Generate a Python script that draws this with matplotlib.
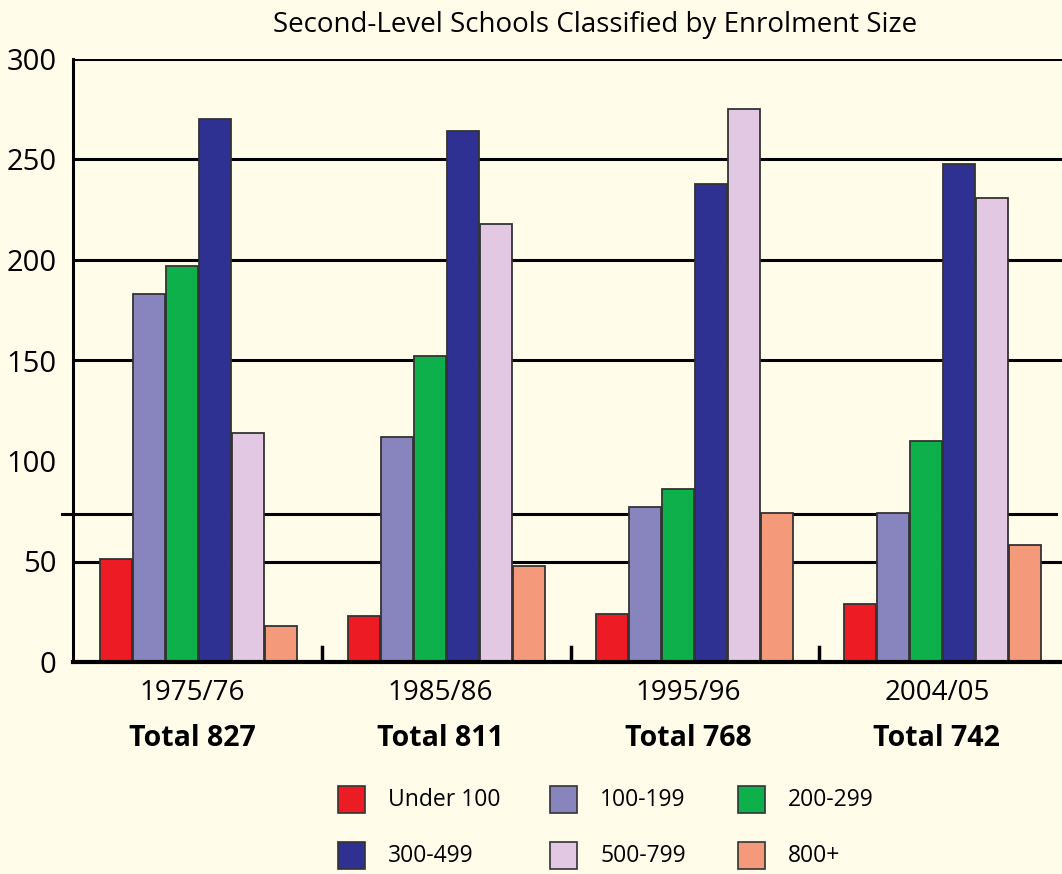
import matplotlib
matplotlib.use("Agg")
import matplotlib.pyplot as plt
from matplotlib.patches import Rectangle

years = ["1975/76", "1985/86", "1995/96", "2004/05"]
totals = ["Total 827", "Total 811", "Total 768", "Total 742"]
series = ["Under 100", "100-199", "200-299", "300-499", "500-799", "800+"]
under100 = [51, 23, 24, 29]
s100_199 = [183, 112, 77, 74]
s200_299 = [197, 152, 86, 110]
s300_499 = [270, 264, 238, 248]
s500_799 = [114, 218, 275, 231]
s800p = [18, 48, 74, 58]
values = [under100, s100_199, s200_299, s300_499, s500_799, s800p]
colors = ["#ED1C24", "#8884BE", "#0DB04B", "#2E3192", "#E2C8E2", "#F4997A"]
yticks = [0, 50, 100, 150, 200, 250, 300]
gridvals = [50, 150, 200, 250, 300]

BG = "#FFFDE9"
FONT = "Open Sans"
W, H = 1062, 874
fig = plt.figure(figsize=(W / 100, H / 100), dpi=100, facecolor=BG)
ax = fig.add_axes([73 / W, (H - 662) / H, (W - 73) / W, (662 - 59) / H])
ax.set_facecolor(BG)
ax.set_xlim(73, 1062)
ax.set_ylim(0, 300)

bw = 33
for si, (vals, col) in enumerate(zip(values, colors)):
    xs = [99 + 248.3 * gi + si * bw + bw / 2 for gi in range(len(years))]
    ax.bar(xs, vals, width=bw - 1, color=col, edgecolor="#333333", linewidth=1.3, zorder=3)

for g in gridvals:
    ax.axhline(g, color="black", linewidth=2.2, zorder=1)
ax.plot([62, 1056], [73.5, 73.5], color="black", linewidth=2.2, zorder=1, clip_on=False)

for s in ["top", "right"]:
    ax.spines[s].set_visible(False)
ax.spines["left"].set_linewidth(2.2)
ax.spines["bottom"].set_linewidth(3)
ax.spines["bottom"].set_zorder(4)

ax.set_yticks(yticks)
ax.set_yticklabels([str(v) for v in yticks], fontsize=21, family=FONT)
ax.tick_params(axis="y", length=0, pad=12)
ax.set_xticks([])
for gi in range(1, len(years)):
    xb = 99 + 248.3 * gi - 25
    ax.plot([xb, xb], [0, 7.5], color="black", linewidth=2.5, zorder=4)

for gi, (yr, tot) in enumerate(zip(years, totals)):
    cx = 192 + 248.3 * gi
    fig.text(cx / W, 1 - 693 / H, yr, ha="center", va="center", fontsize=20, family=FONT)
    fig.text(cx / W, 1 - 738 / H, tot, ha="center", va="center", fontsize=20.5, family=FONT, weight="bold")

fig.text(595 / W, 1 - 25 / H, "Second-Level Schools Classified by Enrolment Size",
         ha="center", va="center", fontsize=20, family=FONT)

colx = [338, 550, 738]
rowy = [800, 856]
for i, (name, col) in enumerate(zip(series, colors)):
    r, c = divmod(i, 3)
    x0, y0 = colx[c], rowy[r]
    fig.patches.append(Rectangle((x0 / W, 1 - (y0 + 13) / H), 27 / W, 27 / H,
                                 transform=fig.transFigure, facecolor=col,
                                 edgecolor="#333333", linewidth=1.2))
    fig.text((x0 + 50) / W, 1 - y0 / H, name, ha="left", va="center", fontsize=16.5, family=FONT)

fig.savefig("out.png", dpi=100, facecolor=BG)
